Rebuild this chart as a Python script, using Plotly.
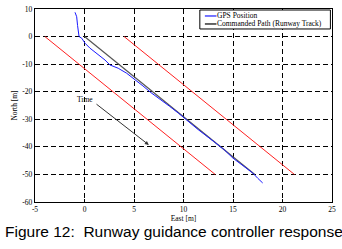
import plotly.graph_objects as go

# GPS position track (East, North) in metres
gps_east = [-0.96, -0.79, -0.70, -0.63, -0.55, -0.28, 0.05, 0.55, 1.23, 2.07, 2.57, 3.41, 4.26,
            5.0, 5.9, 6.7, 7.7, 8.6, 9.5, 10.3, 11.5, 13.0, 14.1, 15.0, 16.0, 17.0, 17.5, 18.0]
gps_north = [8.8, 7.2, 4.0, 1.2, 0.0, -0.6, -2.4, -4.2, -6.1, -8.5, -10.3, -11.5, -13.3,
             -15.3, -17.9, -20.3, -22.8, -25.3, -27.8, -30.2, -33.8, -37.9, -41.0, -44.1, -46.8, -49.5, -51.4, -53.1]

# Commanded path (runway track) and the two red boundary lines
cmd_east = [0.0, 17.2]
cmd_north = [0.0, -50.0]
left_east = [-4.0, 13.2]
left_north = [0.0, -50.0]
right_east = [4.0, 21.2]
right_north = [0.0, -50.0]

x_ticks = [-5, 0, 5, 10, 15, 20, 25]
y_ticks = [10, 0, -10, -20, -30, -40, -50, -60]

legend_labels = ["GPS Position", "Commanded Path (Runway Track)"]
caption = "Figure 12:  Runway guidance controller response"

serif = "Liberation Serif, Times New Roman, serif"

fig = go.Figure()
fig.add_trace(go.Scatter(x=left_east, y=left_north, mode="lines",
                         line=dict(color="#ff2020", width=1), showlegend=False))
fig.add_trace(go.Scatter(x=right_east, y=right_north, mode="lines",
                         line=dict(color="#ff2020", width=1), showlegend=False))
fig.add_trace(go.Scatter(x=cmd_east, y=cmd_north, mode="lines",
                         line=dict(color="#555555", width=1.2), name=legend_labels[1], showlegend=False))
fig.add_trace(go.Scatter(x=gps_east, y=gps_north, mode="lines",
                         line=dict(color="#1a1aff", width=1), name=legend_labels[0], showlegend=False))

axis_common = dict(
    showgrid=True, gridcolor="black", gridwidth=1, griddash="5px,3px",
    zeroline=False, showline=True, linecolor="black", linewidth=1.3, mirror=True,
    ticks="inside", ticklen=3, tickcolor="black", automargin=False,
    tickfont=dict(family=serif, size=7.5, color="black"),
)

fig.update_xaxes(range=[-5, 25], tickvals=x_ticks, ticktext=[str(v) for v in x_ticks],
                 title=dict(text="East [m]", font=dict(family=serif, size=7.5, color="black"), standoff=0),
                 **axis_common)
fig.update_yaxes(range=[-60, 10], tickvals=y_ticks, ticktext=[str(v) for v in y_ticks],
                 title=dict(text="North [m]", font=dict(family=serif, size=7.5, color="black"), standoff=3),
                 **axis_common)

# "Time" arrow
fig.add_annotation(x=6.5, y=-39.3, ax=1.06, ay=-24.1, xref="x", yref="y", axref="x", ayref="y",
                   text="", showarrow=True, arrowhead=2, arrowsize=0.8, arrowwidth=1, arrowcolor="#333333")
fig.add_annotation(x=0.1, y=-22.8, xref="x", yref="y", text="Time", showarrow=False,
                   font=dict(family=serif, size=7.5, color="black"))

# Legend box (drawn manually to match the compact MATLAB style)
fig.add_shape(type="rect", xref="paper", yref="paper", x0=0.555, x1=0.9946, y0=0.8965, y1=0.9948,
              line=dict(color="black", width=1), fillcolor="white", layer="above")
fig.add_shape(type="line", xref="paper", yref="paper", x0=0.572, x1=0.611, y0=0.9638, y1=0.9638,
              line=dict(color="#1a1aff", width=1.2), layer="above")
fig.add_shape(type="line", xref="paper", yref="paper", x0=0.572, x1=0.611, y0=0.9224, y1=0.9224,
              line=dict(color="black", width=1.2), layer="above")
fig.add_annotation(xref="paper", yref="paper", x=0.611, y=0.9638, xanchor="left", yanchor="middle",
                   text=legend_labels[0], showarrow=False, borderpad=0,
                   font=dict(family=serif, size=7.5, color="black"))
fig.add_annotation(xref="paper", yref="paper", x=0.611, y=0.9224, xanchor="left", yanchor="middle",
                   text=legend_labels[1], showarrow=False, borderpad=0,
                   font=dict(family=serif, size=7.5, color="black"))

# Caption
fig.add_annotation(xref="paper", yref="paper", x=-0.107, y=-0.1, xanchor="left", yanchor="top",
                   text=caption, showarrow=False,
                   font=dict(family="Liberation Sans, Arial, sans-serif", size=15.5, color="black"))

fig.update_layout(
    width=342, height=249,
    margin=dict(l=35, r=10, t=9, b=47, autoexpand=False),
    paper_bgcolor="white", plot_bgcolor="white",
    showlegend=False,
)

fig.write_html("out.html", config={"displayModeBar": False},
               post_script="document.body.style.margin='0';document.body.style.overflow='hidden';")
